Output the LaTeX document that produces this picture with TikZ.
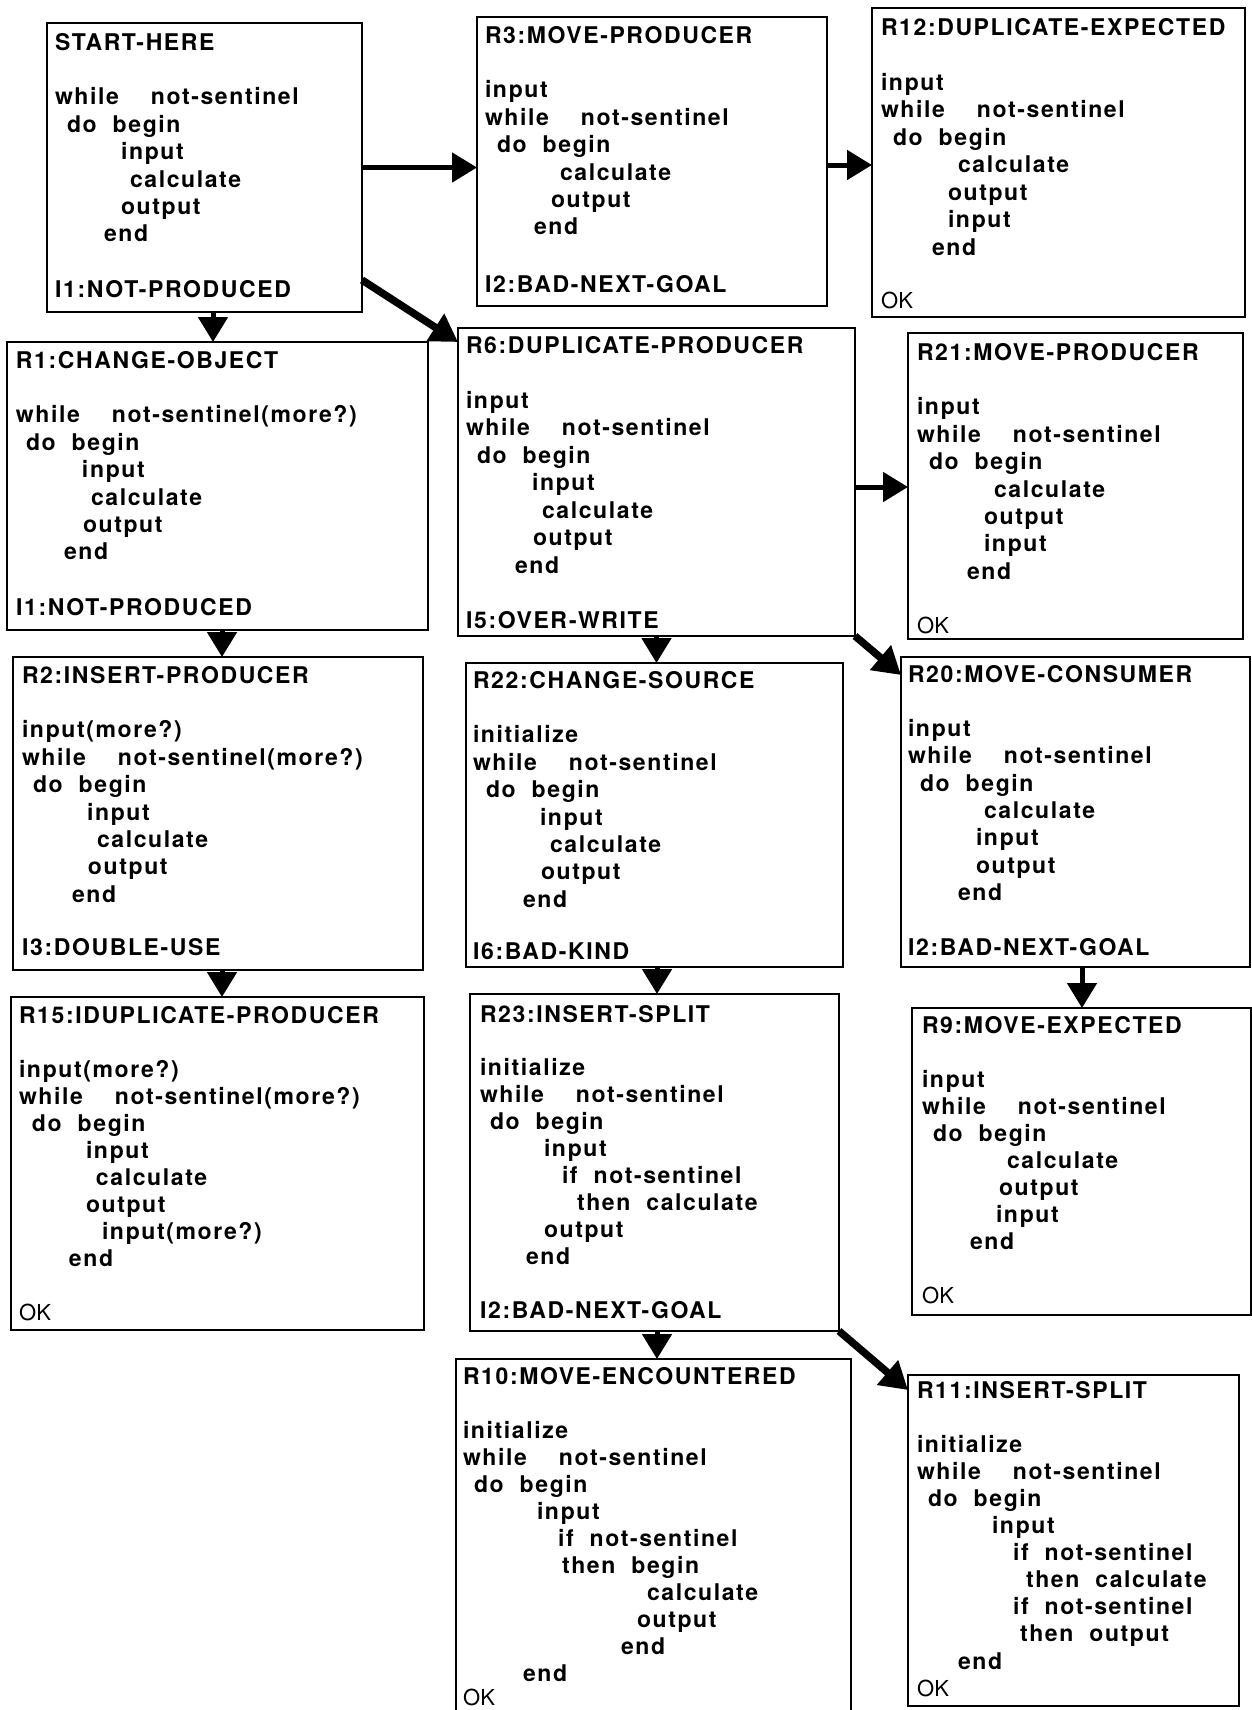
\documentclass[tikz,border=0pt]{standalone}
\usepackage{fontspec}
\usetikzlibrary{arrows.meta,calc}
\newfontfamily\codefont[LetterSpace=7,WordSpace=2]{TeX Gyre Heros}
\newfontfamily\okfont{TeX Gyre Heros}
\newcommand\indt[1]{\hspace*{#1pt}}
\begin{document}
\begin{tikzpicture}[x=1pt,y=-1pt,
  box/.style={draw, line width=2.5pt, inner sep=0pt, outer sep=0pt, anchor=north west},
  codetxt/.style={anchor=north west, inner sep=0pt, outer sep=0pt, align=left,
    font={\codefont\bfseries\fontsize{23}{#1}\selectfont}},
  foot/.style={anchor=base west, inner sep=0pt, font={\codefont\bfseries\fontsize{23}{27}\selectfont}},
  okfoot/.style={anchor=base west, inner sep=0pt, font={\okfont\fontsize{22}{26}\selectfont}},
  arr/.style={line width=5pt, -{Triangle[length=25pt,width=29pt]}},
  darr/.style={line width=7.5pt, -{Triangle[length=27pt,width=31pt]}}]
\useasboundingbox (0,0) rectangle (1252,1710);

% ---------- boxes ----------
\node[box, minimum width=315pt, minimum height=289pt] (start) at (47,23) {};
\node[box, minimum width=350pt, minimum height=289pt] (r3) at (477,17) {};
\node[box, minimum width=373pt, minimum height=309pt] (r12) at (872,8) {};
\node[box, minimum width=421pt, minimum height=288pt] (r1) at (7,342) {};
\node[box, minimum width=397pt, minimum height=308pt] (r6) at (458,328) {};
\node[box, minimum width=335pt, minimum height=306pt] (r21) at (908,333) {};
\node[box, minimum width=410pt, minimum height=313pt] (r2) at (13,657) {};
\node[box, minimum width=377pt, minimum height=304pt] (r22) at (466,663) {};
\node[box, minimum width=349pt, minimum height=310pt] (r20) at (901,657) {};
\node[box, minimum width=413pt, minimum height=333pt] (r15) at (11,997) {};
\node[box, minimum width=369pt, minimum height=337pt] (r23) at (470,994) {};
\node[box, minimum width=339pt, minimum height=307pt] (r9) at (912,1008) {};
\node[box, minimum width=395pt, minimum height=360pt] (r10) at (456,1359) {};
\node[box, minimum width=331pt, minimum height=331pt] (r11) at (908,1375) {};

% ---------- texts ----------
\node[codetxt=27.4] (start-t) at (55,30) {\rule{0pt}{20pt}START-HERE\\ \\
while~~not-sentinel\\ \indt{12}do begin\\ \indt{66}input\\ \indt{75}calculate\\ \indt{66}output\\ \indt{49}end};
\node[foot] (start-f) at (55,297) {I1:NOT-PRODUCED};

\node[codetxt=27.4] (r3-t) at (485,23) {\rule{0pt}{20pt}R3:MOVE-PRODUCER\\ \\
input\\ while~~not-sentinel\\ \indt{12}do begin\\ \indt{75}calculate\\ \indt{66}output\\ \indt{49}end};
\node[foot] (r3-f) at (485,292) {I2:BAD-NEXT-GOAL};

\node[codetxt=27.5] (r12-t) at (881,15) {\rule{0pt}{20pt}R12:DUPLICATE-EXPECTED\\ \\
input\\ while~~not-sentinel\\ \indt{12}do begin\\ \indt{77}calculate\\ \indt{67}output\\ \indt{67}input\\ \indt{51}end};
\node[okfoot] (r12-f) at (881,308) {OK};

\node[codetxt=27.4] (r1-t) at (16,348) {\rule{0pt}{20pt}R1:CHANGE-OBJECT\\ \\
while~~not-sentinel(more?)\\ \indt{10}do begin\\ \indt{66}input\\ \indt{75}calculate\\ \indt{67}output\\ \indt{48}end};
\node[foot] (r1-f) at (16,615) {I1:NOT-PRODUCED};

\node[codetxt=27.5] (r6-t) at (466,333) {\rule{0pt}{20pt}R6:DUPLICATE-PRODUCER\\ \\
input\\ while~~not-sentinel\\ \indt{11}do begin\\ \indt{66}input\\ \indt{76}calculate\\ \indt{67}output\\ \indt{49}end};
\node[foot] (r6-f) at (466,628) {I5:OVER-WRITE};

\node[codetxt=27.4] (r21-t) at (917,340) {\rule{0pt}{20pt}R21:MOVE-PRODUCER\\ \\
input\\ while~~not-sentinel\\ \indt{12}do begin\\ \indt{77}calculate\\ \indt{67}output\\ \indt{67}input\\ \indt{50}end};
\node[okfoot] (r21-f) at (917,633) {OK};

\node[codetxt=27.4] (r2-t) at (22,663) {\rule{0pt}{20pt}R2:INSERT-PRODUCER\\ \\
input(more?)\\ while~~not-sentinel(more?)\\ \indt{11}do begin\\ \indt{65}input\\ \indt{75}calculate\\ \indt{66}output\\ \indt{50}end};
\node[foot] (r2-f) at (22,955) {I3:DOUBLE-USE};

\node[codetxt=27.4] (r22-t) at (473,668) {\rule{0pt}{20pt}R22:CHANGE-SOURCE\\ \\
initialize\\ while~~not-sentinel\\ \indt{13}do begin\\ \indt{67}input\\ \indt{77}calculate\\ \indt{68}output\\ \indt{50}end};
\node[foot] (r22-f) at (473,959) {I6:BAD-KIND};

\node[codetxt=27.3] (r20-t) at (908,662) {\rule{0pt}{20pt}R20:MOVE-CONSUMER\\ \\
input\\ while~~not-sentinel\\ \indt{12}do begin\\ \indt{76}calculate\\ \indt{68}input\\ \indt{68}output\\ \indt{50}end};
\node[foot] (r20-f) at (908,955) {I2:BAD-NEXT-GOAL};

\node[codetxt=27.0] (r15-t) at (19,1003) {\rule{0pt}{20pt}R15:IDUPLICATE-PRODUCER\\ \\
input(more?)\\ while~~not-sentinel(more?)\\ \indt{13}do begin\\ \indt{67}input\\ \indt{77}calculate\\ \indt{67}output\\ \indt{83}input(more?)\\ \indt{50}end};
\node[okfoot] (r15-f) at (19,1320) {OK};

\node[codetxt=26.9] (r23-t) at (480,1002) {\rule{0pt}{20pt}R23:INSERT-SPLIT\\ \\
initialize\\ while~~not-sentinel\\ \indt{10}do begin\\ \indt{64}input\\ \indt{82}if not-sentinel\\ \indt{97}then calculate\\ \indt{64}output\\ \indt{46}end};
\node[foot] (r23-f) at (480,1318) {I2:BAD-NEXT-GOAL};

\node[codetxt=27.1] (r9-t) at (922,1013) {\rule{0pt}{20pt}R9:MOVE-EXPECTED\\ \\
input\\ while~~not-sentinel\\ \indt{11}do begin\\ \indt{85}calculate\\ \indt{77}output\\ \indt{74}input\\ \indt{48}end};
\node[okfoot] (r9-f) at (922,1303) {OK};

\node[codetxt=27.0] (r10-t) at (463,1364) {\rule{0pt}{20pt}R10:MOVE-ENCOUNTERED\\ \\
initialize\\ while~~not-sentinel\\ \indt{11}do begin\\ \indt{74}input\\ \indt{95}if not-sentinel\\ \indt{99}then begin\\ \indt{184}calculate\\ \indt{174}output\\ \indt{158}end\\ \indt{60}end};
\node[okfoot] (r10-f) at (463,1705) {OK};

\node[codetxt=27.1] (r11-t) at (917,1378) {\rule{0pt}{20pt}R11:INSERT-SPLIT\\ \\
initialize\\ while~~not-sentinel\\ \indt{11}do begin\\ \indt{75}input\\ \indt{96}if not-sentinel\\ \indt{109}then calculate\\ \indt{96}if not-sentinel\\ \indt{103}then output\\ \indt{41}end};
\node[okfoot] (r11-f) at (917,1696) {OK};

% ---------- connectors ----------
\coordinate (a1) at ($(r3.east)+(0,3.5)$);
\coordinate (a2) at ($(start.south)+(8.5,0)$);
\coordinate (a3) at ($(start.south east)+(0,-32)$);
\coordinate (b3) at ($(r6.north west)+(0,14)$);
\coordinate (a4) at ($(r1.south)+(4.5,0)$);
\coordinate (a5) at ($(r6.east)+(0,5)$);
\coordinate (b8) at ($(r20.north west)+(0,18)$);
\coordinate (a6) at ($(r2.south)+(4,0)$);
\coordinate (a7) at ($(r22.south)+(2.5,0)$);
\coordinate (a8) at ($(r20.south)+(6.5,0)$);
\coordinate (a9) at ($(r23.south)+(2.5,0)$);
\coordinate (b13) at ($(r11.north west)+(0,15)$);

\draw[arr] (start.east) -- (start.east -| r3.west);
\draw[arr] (a1) -- (a1 -| r12.west);
\draw[arr] (a2) -- (a2 |- r1.north);
\draw[darr] (a3) -- (b3);
\draw[arr] (a4) -- (a4 |- r2.north);
\draw[arr] (r6.south) -- (r6.south |- r22.north);
\draw[arr] (a5) -- (a5 -| r21.west);
\draw[darr] (r6.south east) -- (b8);
\draw[arr] (a6) -- (a6 |- r15.north);
\draw[arr] (a7) -- (a7 |- r23.north);
\draw[arr] (a8) -- (a8 |- r9.north);
\draw[arr] (a9) -- (a9 |- r10.north);
\draw[darr] (r23.south east) -- (b13);
\end{tikzpicture}
\end{document}
